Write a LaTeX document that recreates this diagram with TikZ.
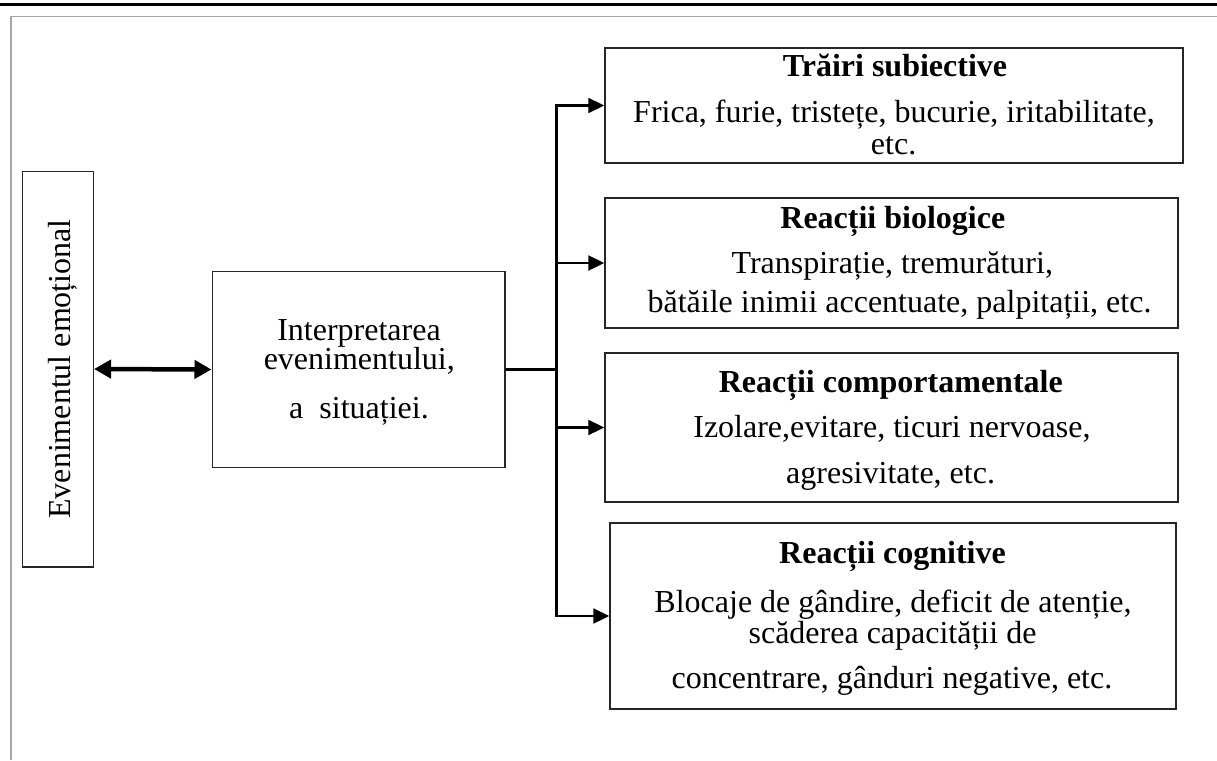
\documentclass[tikz,border=0pt]{standalone}
\usepackage{fontspec}
\setmainfont{Liberation Serif}
\usetikzlibrary{arrows.meta}
\begin{document}
\begin{tikzpicture}[x=1pt,y=-1pt,
  box/.style={draw=black!85, line width=1.5pt, inner sep=0pt},
  txt/.style={anchor=base, inner sep=0pt, font=\fontsize{32}{38}\selectfont},
  btxt/.style={anchor=base, inner sep=0pt, font=\fontsize{32}{38}\selectfont\bfseries},
  conn/.style={line width=2.3pt, -{Triangle[length=16pt,width=15pt]}},
  dbl/.style={line width=4.5pt, {Triangle[length=17pt,width=18pt]}-{Triangle[length=17pt,width=18pt]}}
]
\useasboundingbox (0,0) rectangle (1217,760);
\fill[white] (0,0) rectangle (1217,760);
\draw[line width=3pt] (0,5) -- (1217,5);
\draw[black!35, line width=1.5pt] (11,760) -- (11,16.5) -- (1217,16.5);

% boxes
\node[box, minimum width=71pt, minimum height=395.5pt] (ev) at (57.8,369) {};
\node[box, minimum width=292.7pt, minimum height=195.6pt] (interp) at (358.6,369.5) {};
\node[box, minimum width=578pt, minimum height=115pt] (b1) at (894,105.5) {};
\node[box, minimum width=573pt, minimum height=130pt] (b2) at (891.5,263) {};
\node[box, minimum width=573pt, minimum height=149pt] (b3) at (891.5,427.5) {};
\node[box, minimum width=566pt, minimum height=186pt] (b4) at (893,616) {};

% texts
\node[txt, rotate=90] (evt) at (70,369) {Evenimentul emoțional};
\node[txt] (it1) at (359,340) {Interpretarea};
\node[txt] (it2) at (359.3,369) {evenimentului,};
\node[txt] (it3) at (359,418) {a\ \ situației.};

\node[btxt] (t1a) at (895,76) {Trăiri subiective};
\node[txt] (t1b) at (894,122) {Frica, furie, tristețe, bucurie, iritabilitate,};
\node[txt] (t1c) at (893.6,154) {etc.};

\node[btxt] (t2a) at (892.8,228) {Reacții biologice};
\node[txt] (t2b) at (892.3,273) {Transpirație, tremurături,};
\node[txt] (t2c) at (899.5,312) {bătăile inimii accentuate, palpitații, etc.};

\node[btxt] (t3a) at (890.8,392) {Reacții comportamentale};
\node[txt] (t3b) at (891.9,437) {Izolare,evitare, ticuri nervoase,};
\node[txt] (t3c) at (890.6,483) {agresivitate, etc.};

\node[btxt] (t4a) at (892.5,563) {Reacții cognitive};
\node[txt] (t4b) at (893,612) {Blocaje de gândire, deficit de atenție,};
\node[txt] (t4c) at (892.5,643) {scăderea capacității de};
\node[txt] (t4d) at (891.9,688) {concentrare, gânduri negative, etc.};

% connectors
\draw[dbl] (ev.east) -- (interp.west);
\coordinate (j) at (556.5,369.5);
\draw[line width=2.3pt] (interp.east) -- (j);
\draw[conn] (j) |- (b1.west);
\draw[conn] (j) |- (b2.west);
\draw[conn] (j) |- (b3.west);
\draw[conn] (j) |- (b4.west);
\end{tikzpicture}
\end{document}
